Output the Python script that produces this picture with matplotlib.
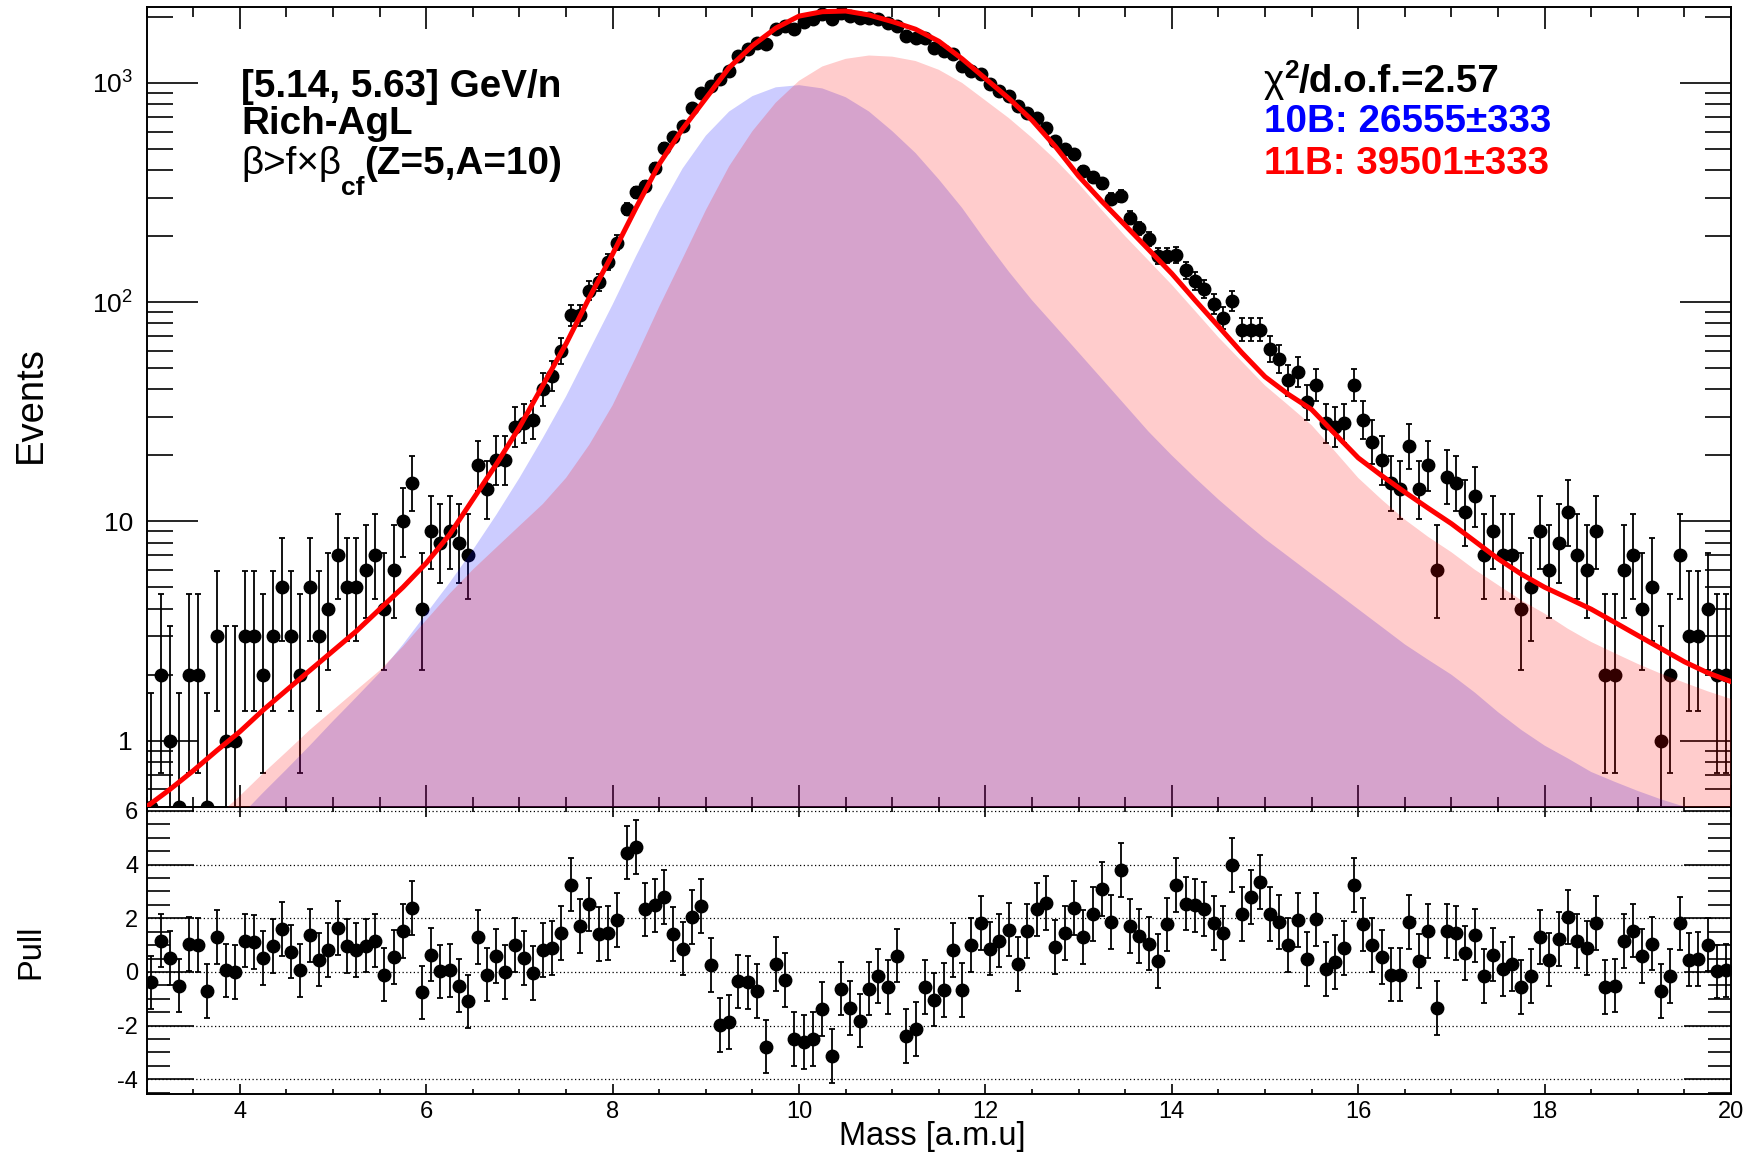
import numpy as np
import matplotlib
matplotlib.use("Agg")
import matplotlib.pyplot as plt
from matplotlib.ticker import FixedLocator, MultipleLocator, LogLocator, NullFormatter
from matplotlib.transforms import IdentityTransform

plt.rcParams['font.family'] = ['Liberation Sans', 'DejaVu Sans']
plt.rcParams['mathtext.fontset'] = 'custom'
plt.rcParams['mathtext.rm'] = 'Liberation Sans'
plt.rcParams['mathtext.bf'] = 'Liberation Sans:bold'
plt.rcParams['mathtext.it'] = 'Liberation Sans:italic'
plt.rcParams['axes.unicode_minus'] = False

# --- data: 0.1 wide mass bins from 3 to 20 ---
bin_start, bin_width, n_bins = 3.0, 0.1, 170
counts = [0, 2, 1, 0, 2, 2, 0, 3, 1, 1,
          3, 3, 2, 3, 5, 3, 2, 5, 3, 4,
          7, 5, 5, 6, 7, 4, 6, 10, 15, 4,
          9, 8, 9, 8, 7, 18, 14, 19, 19, 27,
          28, 29, 40, 46, 60, 87, 87, 113, 123, 152,
          187, 266, 318, 339, 411, 507, 569, 637, 772, 904,
          969, 1039, 1135, 1328, 1435, 1528, 1501, 1758, 1820, 1770,
          1900, 1950, 2057, 1951, 2093, 2020, 1986, 1986, 1951, 1884,
          1820, 1638, 1609, 1609, 1449, 1400, 1352, 1197, 1135, 1096,
          987, 920, 873, 786, 732, 695, 626, 544, 498, 473,
          397, 374, 348, 297, 305, 243, 217, 194, 162, 163,
          164, 140, 125, 115, 98, 85, 101, 75, 75, 75,
          61, 55, 44, 48, 35, 42, 28, 27, 28, 42,
          29, 23, 19, 15, 14, 22, 14, 18, 6, 16,
          15, 11, 13, 7, 9, 7, 7, 4, 5, 9,
          6, 8, 11, 7, 6, 9, 2, 2, 6, 7,
          4, 5, 1, 2, 7, 3, 3, 4, 2, 2]

pulls = [-0.39, 1.17, 0.52, -0.51, 1.05, 1.00, -0.70, 1.30, 0.06, 0.00,
         1.17, 1.12, 0.52, 0.96, 1.61, 0.76, 0.06, 1.36, 0.46, 0.81,
         1.64, 0.96, 0.81, 0.98, 1.17, -0.10, 0.55, 1.52, 2.39, -0.76,
         0.65, 0.02, 0.06, -0.51, -1.10, 1.30, -0.10, 0.59, 0.00, 1.00,
         0.52, -0.04, 0.81, 0.90, 1.46, 3.26, 1.71, 2.52, 1.42, 1.46,
         1.93, 4.45, 4.66, 2.33, 2.48, 2.80, 1.42, 0.87, 2.05, 2.45,
         0.25, -1.98, -1.86, -0.35, -0.39, -0.70, -2.78, 0.30, -0.29, -2.50,
         -2.62, -2.50, -1.38, -3.13, -0.62, -1.34, -1.81, -0.62, -0.16, -0.57,
         0.61, -2.38, -2.13, -0.57, -1.03, -0.68, 0.83, -0.68, 1.00, 1.83,
         0.87, 1.17, 1.58, 0.30, 1.52, 2.33, 2.58, 0.93, 1.46, 2.39,
         1.30, 2.17, 3.10, 1.87, 3.80, 1.71, 1.33, 1.06, 0.40, 1.77,
         3.23, 2.55, 2.48, 2.35, 1.83, 1.46, 3.98, 2.17, 2.80, 3.35,
         2.17, 1.86, 1.00, 1.93, 0.49, 1.96, 0.11, 0.36, 0.90, 3.23,
         1.77, 1.00, 0.55, -0.10, -0.10, 1.87, 0.40, 1.52, -1.34, 1.52,
         1.46, 0.71, 1.36, -0.16, 0.65, 0.11, 0.30, -0.57, -0.16, 1.30,
         0.46, 1.23, 2.05, 1.15, 0.90, 1.83, -0.57, -0.51, 1.15, 1.54,
         0.59, 1.06, -0.70, -0.16, 1.81, 0.46, 0.49, 1.02, 0.02, 0.06]

# curves read every 0.25 amu from 3 to 20
curve_step = 0.25
# 10B template (blue)
b10_tmpl = [0.18, 0.22, 0.28, 0.35,
            0.45, 0.58, 0.74, 0.95,
            1.23, 1.58, 2.04, 2.75,
            3.80, 5.25, 7.41, 10.7,
            15.8, 24.0, 37.2, 60.3,
            97.7, 162, 263, 407,
            575, 741, 871, 955,
            977, 944, 861, 741,
            603, 479, 363, 269,
            191, 138, 102, 77.6,
            58.9, 44.7, 33.9, 25.7,
            20.0, 15.8, 12.6, 10.2,
            8.32, 6.92, 5.75, 4.79,
            3.98, 3.31, 2.75, 2.34,
            2.0, 1.66, 1.35, 1.12,
            0.95, 0.83, 0.72, 0.65,
            0.59, 0.54, 0.50, 0.46,
            0.42]
# 11B template (red)
b11_tmpl = [0.20, 0.26, 0.35, 0.45,
            0.56, 0.71, 0.89, 1.12,
            1.38, 1.70, 2.09, 2.69,
            3.55, 4.68, 6.03, 7.59,
            9.55, 12.0, 15.8, 22.4,
            33.9, 56.2, 95.5, 158,
            263, 417, 603, 813,
            1023, 1189, 1288, 1334,
            1318, 1259, 1148, 1000,
            832, 692, 562, 447,
            347, 263, 200, 155,
            120, 91.2, 69.2, 53.7,
            41.7, 33.9, 27.5, 20.9,
            15.8, 12.6, 10.2, 8.51,
            7.24, 6.03, 5.13, 4.37,
            3.80, 3.24, 2.82, 2.51,
            2.24, 2.02, 1.84, 1.68,
            1.55]
# total fit
fit_vals = [0.50, 0.60, 0.73, 0.90,
            1.10, 1.38, 1.70, 2.09,
            2.57, 3.16, 3.98, 5.01,
            6.46, 8.71, 12.6, 18.2,
            26.9, 41.7, 64.6, 105,
            166, 269, 427, 617,
            851, 1175, 1479, 1778,
            2018, 2113, 2128, 2042,
            1905, 1758, 1549, 1288,
            1047, 851, 676, 513,
            376, 288, 224, 174,
            135, 102, 77.6, 58.9,
            45.7, 38.0, 32.4, 25.1,
            19.5, 16.2, 13.6, 11.5,
            9.77, 8.13, 6.76, 5.75,
            5.01, 4.47, 3.98, 3.47,
            3.02, 2.63, 2.29, 2.04,
            1.86]

mass = bin_start + bin_width * (np.arange(n_bins) + 0.5)
curve_mass = bin_start + curve_step * np.arange(len(fit_vals))

n = np.array(counts, dtype=float)
ymin, ymax = 0.5, 2220

# Poisson (Gehrels) errors
err_hi = np.where(n > 0, np.sqrt(n + 0.75) + 1.0, 1.15)
nn = np.where(n > 0, n, 1.0)
err_lo = np.where(n > 0, n - nn * (1 - 1 / (9 * nn) - 1 / (3 * np.sqrt(nn))) ** 3, 0.0)
y_plot = np.where(n > 0, n, ymin)

W, H = 1756, 1153
fig = plt.figure(figsize=(W / 100, H / 100), dpi=100)

left, right = 146.7, 1731.0
top_main, bot_main, bot_pull = 7.0, 806.7, 1094.3
ax2 = fig.add_axes([left / W, 1 - bot_pull / H, (right - left) / W, (bot_pull - bot_main) / H])
ax = fig.add_axes([left / W, 1 - bot_main / H, (right - left) / W, (bot_main - top_main) / H], sharex=ax2)

# ---- main panel ----
ax.errorbar(mass, y_plot, yerr=[err_lo, err_hi], fmt='o', color='black', ms=9,
            elinewidth=1.3, capsize=2.5, capthick=1.3, zorder=2)
ax.fill_between(curve_mass, 1e-3, b10_tmpl, color='blue', alpha=0.2, lw=0, zorder=3)
ax.fill_between(curve_mass, 1e-3, b11_tmpl, color='red', alpha=0.2, lw=0, zorder=3)
ax.plot(curve_mass, fit_vals, color='red', lw=3.6, zorder=4)

ax.set_yscale('log')
ax.set_ylim(ymin, ymax)
ax.set_xlim(3, 20)
ax.yaxis.set_major_locator(FixedLocator([1, 10, 100, 1000]))
ax.set_yticklabels(['1', '10', r'$10^{2}$', r'$10^{3}$'])
ax.yaxis.set_minor_locator(LogLocator(base=10, subs=np.arange(2, 10)))
ax.yaxis.set_minor_formatter(NullFormatter())
ax.tick_params(which='both', direction='in', top=True, right=True, width=1.2,
               labelbottom=False, labelsize=19)
ax.tick_params(axis='y', which='major', length=37, pad=10)
ax.tick_params(axis='y', which='minor', length=19)
ax.tick_params(axis='x', which='major', length=16)
ax.tick_params(axis='x', which='minor', length=7.5)
for s in ax.spines.values():
    s.set_linewidth(1.4)

# ---- pull panel ----
ax2.errorbar(mass, pulls, yerr=1.0, fmt='o', color='black', ms=9,
             elinewidth=1.3, capsize=2.5, capthick=1.3)
ax2.set_ylim(-4.56, 6.16)
ax2.yaxis.set_major_locator(FixedLocator([-4, -2, 0, 2, 4, 6]))
ax2.yaxis.set_minor_locator(MultipleLocator(0.5))
ax2.xaxis.set_major_locator(MultipleLocator(2))
ax2.xaxis.set_minor_locator(MultipleLocator(0.5))
ax2.grid(axis='y', which='major', color='black', linestyle=(0, (1, 2)), lw=0.9)
ax2.tick_params(which='both', direction='in', top=True, right=True, width=1.2, labelsize=17)
ax2.tick_params(axis='y', which='major', length=34, pad=6)
ax2.tick_params(axis='y', which='minor', length=16.5)
ax2.tick_params(axis='x', which='major', length=7.2, pad=5)
ax2.tick_params(axis='x', which='minor', length=3.6)
for s in ax2.spines.values():
    s.set_linewidth(1.4)
ax2.set_xlim(3, 20)

# ---- axis titles ----
px = IdentityTransform()
fig.text(31, H - 405, 'Events', transform=px, rotation=90, ha='center', va='center', fontsize=27.5)
fig.text(31, H - 952, 'Pull', transform=px, rotation=90, ha='center', va='center', fontsize=23.5)
fig.text(932, H - 1136, 'Mass [a.m.u]', transform=px, ha='center', va='center', fontsize=23.5)


def put_pieces(x, y_top, pieces):
    r = fig.canvas.get_renderer()
    for txt, dy, kw in pieces:
        t = fig.text(x, H - y_top + dy, txt, transform=px, ha='left', va='baseline', **kw)
        x += t.get_window_extent(r).width


big = 27.8
small = 19
fig.text(241, H - 97, '[5.14, 5.63] GeV/n', transform=px, fontsize=big, fontweight='bold')
fig.text(241, H - 134, 'Rich-AgL', transform=px, fontsize=big, fontweight='bold')
put_pieces(241, 174, [('\u03b2>f\u00d7\u03b2', 0, dict(fontsize=big)),
                      ('cf', -21, dict(fontsize=small, fontweight='bold')),
                      ('(Z=5,A=10)', 0, dict(fontsize=big, fontweight='bold'))])

put_pieces(1264, 92, [('\u03c7', 0, dict(fontsize=big)),
                      ('2', 14, dict(fontsize=small, fontweight='bold')),
                      ('/d.o.f.=2.57', 0, dict(fontsize=big, fontweight='bold'))])
fig.text(1264, H - 132, '10B: 26555\u00b1333', transform=px, fontsize=big,
         fontweight='bold', color='blue')
fig.text(1264, H - 174, '11B: 39501\u00b1333', transform=px, fontsize=big,
         fontweight='bold', color='red')

fig.savefig('out.png', dpi=100)
